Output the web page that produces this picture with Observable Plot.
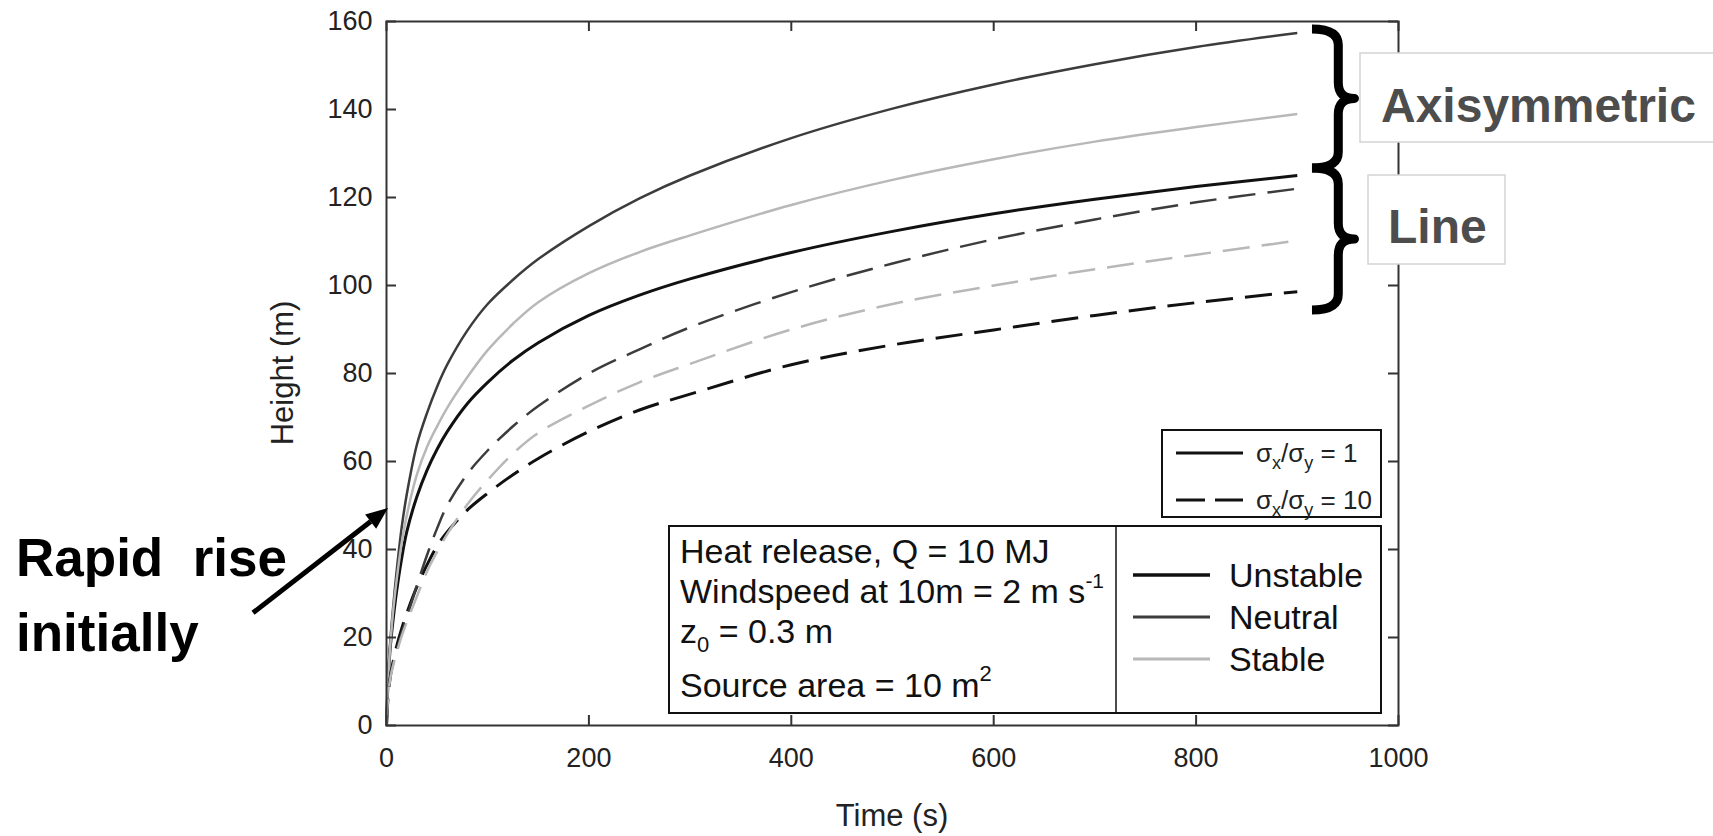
<!DOCTYPE html>
<html><head><meta charset="utf-8">
<script src="https://cdn.jsdelivr.net/npm/d3@7"></script>
<script src="https://cdn.jsdelivr.net/npm/@observablehq/plot@0.6"></script>
<style>
html,body{margin:0;padding:0;background:#fff;}
#chart{position:relative;width:1713px;height:836px;overflow:hidden;}
</style></head>
<body><div id="chart"></div>
<script>
// ---- data ----
const times = [0,1,2,4,7,10,15,20,30,40,50,60,80,100,125,150,200,250,300,400,500,600,700,800,900];
const axisymUnstable = [0,7,12,18.5,25,30.5,38,44,52,58,62.8,66.8,73.2,78,83,87,93.2,97.8,101.5,107.5,112.3,116.3,119.6,122.5,125];
const axisymNeutral  = [0,8,13,20,28,35,45,52.5,63.8,71,77,82,89.8,95.8,101.3,106,113.5,119.8,125,133.5,140.2,145.7,150.3,154.2,157.4];
const axisymStable   = [0,7,12,19,27,33,41.5,47.7,57,63.3,68,72.2,79.2,85.3,91.3,96.2,102.8,107.6,111.4,118.3,124,128.7,132.7,136,139];
const lineUnstable   = [0,4.5,7.5,11.5,15,18,22,25.5,31.5,36.5,40.8,44,49,52.8,57,60.7,66.8,71.7,75.3,82,86.5,89.9,93.2,96.1,98.6];
const lineNeutral    = [0,5,8,11.5,14.5,17,21,24.5,31.8,38.7,44.8,50,57.2,62.5,68,72.6,80,85.5,90.5,98.5,105,110.5,115,118.9,122];
const lineStable     = [0,4.5,7.5,11,14,16.5,20.3,23.5,29.3,35,39.5,43.5,50.3,55.8,61.8,66.5,72.7,78,82.2,90,95.8,100,103.7,107,110.2];

const stabilityClasses = ["Unstable","Neutral","Stable"];
const sourceShapes = ["Axisymmetric","Line"];
const xTicks = [0,200,400,600,800,1000];
const yTicks = [0,20,40,60,80,100,120,140,160];
const axisTitles = {x:"Time (s)", y:"Height (m)"};
const ratioLabels = ["1","10"];
const conditionLines = ["Heat release, Q = 10 MJ","Windspeed at 10m = 2 m s","z","Source area = 10 m"];
const braceRanges = [[158.2,126.6],[126.6,94.3]];

// ---- styles ----
const FONT = "'Liberation Sans', Arial, Helvetica, sans-serif";
const colorOf = {Unstable:"#111111", Neutral:"#3c3c3c", Stable:"#b8b8b8"};
const widthOf = {Unstable:3, Neutral:2.5, Stable:2.5};
const DASH = "27,12";

const seriesDefs = [
  {shape:"Axisymmetric", stability:"Unstable", values:axisymUnstable},
  {shape:"Axisymmetric", stability:"Neutral",  values:axisymNeutral},
  {shape:"Axisymmetric", stability:"Stable",   values:axisymStable},
  {shape:"Line", stability:"Unstable", values:lineUnstable},
  {shape:"Line", stability:"Neutral",  values:lineNeutral},
  {shape:"Line", stability:"Stable",   values:lineStable}
];
const rows = seriesDefs.flatMap(s => times.map((t,i) => ({t, h:s.values[i], shape:s.shape, stability:s.stability})));

const W = 1713, H = 836;
const mL = 386, mR = 315, mT = 21, mB = 111;
const plotW = W - mL - mR, plotH = H - mT - mB;

const lineMarks = seriesDefs.map(s => Plot.line(rows.filter(r => r.shape===s.shape && r.stability===s.stability), {
  x:"t", y:"h", curve:"catmull-rom",
  stroke: colorOf[s.stability], strokeWidth: widthOf[s.stability],
  strokeDasharray: s.shape==="Line" ? DASH : null, strokeLinecap:"butt"
}));

const plot = Plot.plot({
  width: W, height: H,
  marginLeft: mL, marginRight: mR, marginTop: mT, marginBottom: mB,
  style: {fontFamily: FONT, fontSize: "27px", color: "#222", background: "#fff", overflow: "visible"},
  x: {domain:[0,1000], label:null},
  y: {domain:[0,160], label:null},
  marks: [
    ...lineMarks,
    Plot.frame({stroke:"#333", strokeWidth:2}),
    Plot.tickX(xTicks, {x:d=>d, insetTop: plotH-10, stroke:"#333", strokeWidth:2}),
    Plot.tickX(xTicks, {x:d=>d, insetBottom: plotH-10, stroke:"#333", strokeWidth:2}),
    Plot.tickY(yTicks, {y:d=>d, insetRight: plotW-10, stroke:"#333", strokeWidth:2}),
    Plot.tickY(yTicks, {y:d=>d, insetLeft: plotW-10, stroke:"#333", strokeWidth:2}),
    Plot.axisX({ticks:xTicks, tickSize:0, tickPadding:22, fontSize:27, label:null, tickFormat:d=>String(d)}),
    Plot.axisY({ticks:yTicks, tickSize:0, tickPadding:14, fontSize:27, label:null, tickFormat:d=>String(d)})
  ]
});
document.getElementById("chart").appendChild(plot);

// ---- annotations & legends ----
const sx = plot.scale("x"), sy = plot.scale("y");
const svg = d3.select(plot);
const g = svg.append("g").attr("font-family", FONT).attr("text-anchor","start");

// axis titles, centred on the frame
const cx = (sx.range[0] + sx.range[1]) / 2, cy = (sy.range[0] + sy.range[1]) / 2;
g.append("text").attr("x",cx).attr("y",sy.range[0] + 90).attr("text-anchor","middle")
  .attr("dominant-baseline","central").attr("font-size",31).attr("fill","#222").text(axisTitles.x);
g.append("text").attr("transform",`translate(${sx.range[0] - 104},${cy}) rotate(-90)`).attr("text-anchor","middle")
  .attr("dominant-baseline","central").attr("font-size",31).attr("fill","#222").text(axisTitles.y);

// ratio legend (sigma_x / sigma_y)
g.append("rect").attr("x",1162).attr("y",430).attr("width",219).attr("height",87)
  .attr("fill","#fff").attr("stroke","#111").attr("stroke-width",2);
ratioLabels.forEach((lab,i) => {
  const yy = 453 + i*47;
  g.append("line").attr("x1",1176).attr("x2",1243).attr("y1",yy).attr("y2",yy)
    .attr("stroke","#111").attr("stroke-width",3).attr("stroke-dasharray", i===1 ? "29,10" : null);
  const t = g.append("text").attr("x",1256).attr("y",yy+9).attr("font-size",26).attr("fill","#222");
  t.append("tspan").text("σ");
  t.append("tspan").attr("font-size",18).attr("dy",7).text("x");
  t.append("tspan").attr("dy",-7).text("/σ");
  t.append("tspan").attr("font-size",18).attr("dy",7).text("y");
  t.append("tspan").attr("dy",-7).text(" = " + lab);
});

// conditions + stability legend
g.append("rect").attr("x",669).attr("y",526).attr("width",712).attr("height",187)
  .attr("fill","#fff").attr("stroke","#111").attr("stroke-width",2);
g.append("line").attr("x1",1116).attr("x2",1116).attr("y1",526).attr("y2",713)
  .attr("stroke","#111").attr("stroke-width",1.5);
const condY = [563, 603, 643, 697];
conditionLines.forEach((txt,i) => {
  const t = g.append("text").attr("x",680).attr("y",condY[i]).attr("font-size",34).attr("fill","#111");
  t.append("tspan").text(txt);
  if (i===1) t.append("tspan").attr("font-size",21).attr("dy",-15).text("-1");
  if (i===2) { t.append("tspan").attr("font-size",22).attr("dy",9).text("0"); t.append("tspan").attr("dy",-9).text(" = 0.3 m"); }
  if (i===3) t.append("tspan").attr("font-size",22).attr("dy",-16).text("2");
});
stabilityClasses.forEach((s,i) => {
  const yy = 575 + i*42;
  g.append("line").attr("x1",1133).attr("x2",1210).attr("y1",yy).attr("y2",yy)
    .attr("stroke",colorOf[s]).attr("stroke-width",widthOf[s]+0.5);
  g.append("text").attr("x",1229).attr("y",yy+12).attr("font-size",34).attr("fill","#111").text(s);
});

// braces
const bx0 = sx.apply(915), bxs = sx.apply(941), bxt = sx.apply(957);
braceRanges.forEach(([a,b]) => {
  const y1 = sy.apply(a), y2 = sy.apply(b), m = (y1+y2)/2, r = 16;
  const d = `M${bx0},${y1} Q${bxs},${y1} ${bxs},${y1+r} L${bxs},${m-r} Q${bxs},${m} ${bxt},${m} Q${bxs},${m} ${bxs},${m+r} L${bxs},${y2-r} Q${bxs},${y2} ${bx0},${y2}`;
  g.append("path").attr("d",d).attr("fill","none").attr("stroke","#000").attr("stroke-width",9).attr("stroke-linejoin","round");
});
// shape labels
const boxes = [{x:1360,y:53,w:360,h:89,tx:1381,ty:122},{x:1368,y:175,w:137,h:89,tx:1388,ty:243}];
sourceShapes.forEach((lab,i) => {
  const b = boxes[i];
  g.append("rect").attr("x",b.x).attr("y",b.y).attr("width",b.w).attr("height",b.h)
    .attr("fill","#fff").attr("stroke","#d4d4d4").attr("stroke-width",1.5);
  g.append("text").attr("x",b.tx).attr("y",b.ty).attr("font-size",48).attr("font-weight","bold").attr("fill","#4d4d4d").text(lab);
});

// "Rapid rise initially" annotation with arrow
const ax1 = sx.apply(-131.4), ay1 = sy.apply(25.5), ax2 = sx.apply(2), ay2 = sy.apply(49.3);
const ang = Math.atan2(ay2-ay1, ax2-ax1), hl = 22, hw = 9;
const bxh = ax2 - hl*Math.cos(ang), byh = ay2 - hl*Math.sin(ang);
g.append("line").attr("x1",ax1).attr("y1",ay1).attr("x2",bxh).attr("y2",byh).attr("stroke","#000").attr("stroke-width",5);
g.append("path").attr("d",`M${ax2},${ay2} L${bxh - hw*Math.sin(ang)},${byh + hw*Math.cos(ang)} L${bxh + hw*Math.sin(ang)},${byh - hw*Math.cos(ang)} Z`).attr("fill","#000");
const ann = g.append("text").attr("font-size",53).attr("font-weight","bold").attr("fill","#000").style("white-space","pre");
ann.append("tspan").attr("x",16).attr("y",576).text("Rapid  rise");
ann.append("tspan").attr("x",16).attr("y",651).text("initially");
</script>
</body></html>
